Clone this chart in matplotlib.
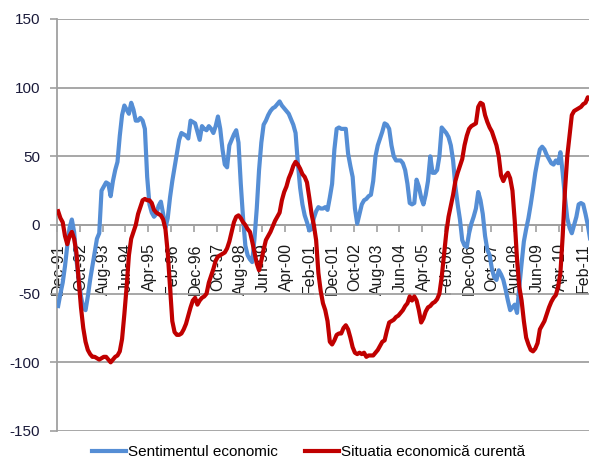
import matplotlib
matplotlib.use("Agg")
import matplotlib.pyplot as plt
import numpy as np

plt.rcParams['font.family'] = ['Liberation Sans', 'DejaVu Sans']
plt.rcParams['axes.unicode_minus'] = False

# Monthly series starting Dec-91
sentiment = [
    -59, -50, -42, -30, -15, -2, 4, -5, -25, -40,
    -52, -60, -62, -52, -40, -30, -20, -10, -6, 25,
    28, 31, 30, 21, 32, 40, 46, 65, 80, 87,
    84, 81, 89, 84, 76, 76, 78, 76, 70, 35,
    15, 9, 6, 8, 14, 17, 8, -2, 5, 20,
    32, 42, 52, 62, 67, 66, 65, 63, 76, 75,
    74, 68, 62, 72, 70, 69, 72, 70, 67, 72,
    79, 70, 55, 44, 42, 58, 62, 66, 69, 60,
    30, 5, -15, -22, -25, -27, -10, 12, 40, 60,
    73, 76, 80, 83, 85, 86, 88, 90, 87, 85,
    83, 81, 77, 73, 67, 45, 27, 15, 7, 2,
    -4, -3, 5, 10, 13, 12, 12, 13, 11, 20,
    30, 55, 70, 71, 70, 70, 70, 52, 43, 35,
    12, 1, 8, 15, 18, 19, 21, 22, 32, 50,
    58, 63, 68, 74, 73, 70, 58, 50, 47, 47,
    47, 45, 40, 30, 16, 15, 16, 33, 28, 20,
    15, 22, 32, 50, 38, 38, 40, 50, 71, 69,
    67, 64, 58, 47, 28, 15, 4, -11, -15, -16,
    -6, 1, 6, 12, 24, 18, 8, -8, -18, -22,
    -32, -38, -40, -33, -36, -40, -47, -55, -62, -60,
    -58, -64, -45, -28, -12, -3, 5, 15, 26, 38,
    47, 55, 57, 55, 51, 48, 45, 44, 47, 45,
    53, 38, 20, 5, -2, -6, 0, 6, 15, 16,
    15, 8, 0, -10,
]

situatia = [
    10, 5, 2, -8, -14, -8, -5, -10, -20, -40,
    -60, -75, -85, -91, -94, -96, -96, -97, -98, -97,
    -96, -96, -98, -100, -98, -96, -95, -92, -83, -65,
    -45, -22, -10, -5, 0, 8, 13, 18, 19, 18,
    18, 16, 11, 9, 8, 7, 4, -3, -20, -45,
    -70, -78, -80, -80, -79, -76, -72, -66, -60, -55,
    -53, -58, -55, -53, -52, -50, -42, -37, -32, -26,
    -23, -22, -21, -20, -17, -12, -5, 2, 6, 7,
    5, 2, 0, -3, -5, -12, -20, -28, -33, -26,
    -18, -11, -8, -5, -1, 3, 6, 9, 18, 24,
    28, 34, 38, 43, 46, 44, 41, 37, 35, 31,
    20, 8, 0, -11, -35, -48, -57, -62, -70, -85,
    -87, -84, -80, -79, -79, -75, -73, -76, -82, -89,
    -93, -94, -93, -94, -93, -96, -95, -95, -95, -93,
    -91, -88, -85, -84, -77, -71, -70, -69, -67, -66,
    -64, -62, -59, -57, -52, -55, -52, -55, -62, -71,
    -68, -63, -60, -59, -57, -56, -54, -50, -38, -22,
    -6, 6, 14, 22, 32, 38, 43, 48, 58, 65,
    70, 72, 73, 74, 86, 89, 88, 80, 75, 71,
    68, 63, 58, 50, 36, 32, 36, 38, 34, 25,
    3, -25, -45, -55, -70, -82, -87, -91, -92, -90,
    -86, -76, -73, -70, -65, -60, -56, -53, -51, -45,
    -35, -8, 25, 50, 65, 80, 83, 84, 85, 86,
    88, 89, 93, 92,
]

tick_labels = ["Dec-91", "Oct-92", "Aug-93", "Jun-94", "Apr-95", "Feb-96",
               "Dec-96", "Oct-97", "Aug-98", "Jun-99", "Apr-00", "Feb-01",
               "Dec-01", "Oct-02", "Aug-03", "Jun-04", "Apr-05", "Feb-06",
               "Dec-06", "Oct-07", "Aug-08", "Jun-09", "Apr-10", "Feb-11"]
label_step = 10

series_names = ["Sentimentul economic", "Situatia economică curentă"]

W, H = 589, 459
fig = plt.figure(figsize=(W / 100, H / 100), dpi=100)
ax = fig.add_axes([57 / W, 28 / H, (W - 57) / W, 412 / H])

x = np.arange(len(sentiment))
ax.plot(x, sentiment, color='#558ED5', lw=3.0, solid_joinstyle='round',
        label=series_names[0], zorder=3)
ax.plot(x, situatia, color='#C00000', lw=3.0, solid_joinstyle='round',
        label=series_names[1], zorder=4)

ax.set_xlim(-0.5, (W - 57) / 2.283 - 0.5)
ax.set_ylim(-150, 150)
ax.set_yticks(np.arange(-150, 151, 50))

grid_c = '#A0A0A0'
ax.yaxis.grid(True, color=grid_c, lw=1.3, zorder=0)
ax.set_axisbelow(True)

for s in ['top', 'right']:
    ax.spines[s].set_visible(False)
ax.spines['left'].set_color(grid_c)
ax.spines['left'].set_linewidth(1.3)
ax.spines['bottom'].set_position(('data', 0))
ax.spines['bottom'].set_color(grid_c)
ax.spines['bottom'].set_linewidth(1.3)

tick_pos = np.arange(len(tick_labels)) * label_step
ax.set_xticks(tick_pos)
ax.set_xticklabels(tick_labels, rotation=90, fontsize=11.5, color='#1a1a1a')
ax.tick_params(axis='x', which='major', length=0, pad=13)
ax.set_xticks(tick_pos - 0.5, minor=True)
ax.tick_params(axis='x', which='minor', length=5, color=grid_c, width=1.2,
               direction='out')

ax.tick_params(axis='y', length=5, color=grid_c, width=1.2, pad=7,
               labelsize=11, labelcolor='#1a1a3a')

leg = fig.legend(loc='center', bbox_to_anchor=(0.524, (H - 452) / H),
                 ncol=2, frameon=False, fontsize=11, handlelength=2.2,
                 handletextpad=0.15, columnspacing=1.8, borderaxespad=0,
                 borderpad=0)

fig.savefig('out.png', dpi=100)
